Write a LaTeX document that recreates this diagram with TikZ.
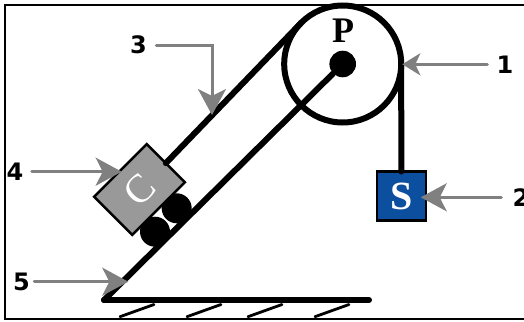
\documentclass[tikz,border=0pt]{standalone}
\usepackage{fontspec}
\setmainfont{Liberation Serif}
\newfontfamily\numfont{DejaVu Sans}
\usetikzlibrary{arrows.meta}
\definecolor{boxblue}{HTML}{0B4F9E}
\definecolor{blockgray}{HTML}{999999}
\definecolor{arrowgray}{HTML}{808080}
\tikzset{
    rope/.style={line width=3pt, line cap=round},
    callout/.style={arrowgray, line width=1.5pt, line cap=round, -{Stealth[length=13pt,width=14pt,inset=3.5pt]}},
    num/.style={font=\numfont\bfseries\fontsize{12}{14}\selectfont, inner ysep=0pt},
    wheel/.style={circle, fill=black, inner sep=0pt, minimum size=15pt}
}
\begin{document}
\begin{tikzpicture}[x=0.5pt,y=-0.5pt]
\useasboundingbox (0,0) rectangle (524,321);
%moldura
    \draw [line width=1pt] (524,4.5) -- (5,4.5) -- (5,319) -- (524,319);

%polia
    \node (pulley) at (342.7,64) [circle, draw, line width=3pt, outer sep=0pt, inner sep=0pt, minimum size=58.5pt] {};
    \node (hub) at (342.7,64) [circle, fill=black, inner sep=0pt, minimum size=13.3pt] {};
    \node (labP) at (343,31) [font=\bfseries\fontsize{18}{20}\selectfont, inner sep=0pt] {P};

%plano
    \coordinate (base) at (104,300);
    \coordinate (tip) at (369,300);
    \draw [rope] (base) -- (hub);
    \draw [rope] (base) -- (tip);
    \foreach \x in {120,187,248,315}
        \draw [line width=1.4pt, line cap=round] (\x,316.7) -- (\x+34,304.5);

%carro
    \node (wheelA) at (176.7,208.3) [wheel] {};
    \node (wheelB) at (155,231.7) [wheel] {};
    \node (block) at (139.5,189.5) [rotate=45, draw, fill=blockgray, line width=1.2pt, outer sep=0pt, inner sep=0pt, minimum width=37.25pt, minimum height=27pt, text=white, font=\fontsize{20}{22}\selectfont] {C};
    \draw [rope] (pulley.135) -- (block.east);

%peso
    \node (weight) at (401.3,196) [draw, fill=boxblue, line width=1.2pt, outer sep=0pt, inner sep=0pt, minimum size=24.5pt, text=white, font=\bfseries\fontsize{20}{22}\selectfont] {S};
    \draw [rope] (pulley.east) -- (weight.north);

%setas
    \node (num1) at (505,64.3) [num, inner xsep=4.5pt] {1};
    \node (num2) at (521,197.3) [num, inner xsep=5.5pt] {2};
    \node (num3) at (138.5,45) [num, inner xsep=4.5pt] {3};
    \node (num4) at (15,171.7) [num, inner xsep=4pt] {4};
    \node (num5) at (21.5,281.7) [num, inner xsep=2pt] {5};
    \coordinate (end1) at (402.3,64.3);
    \coordinate (end2) at (420.7,197.3);
    \coordinate (end3) at (212,115);
    \coordinate (end4) at (121.7,171.7);
    \coordinate (end5) at (128.3,281.7);
    \draw [callout, -{Stealth[length=9pt,width=11pt,inset=2.5pt]}] (num1.west) -- (end1);
    \draw [callout] (num2.west) -- (end2);
    \draw [callout] (num3.east) -| (end3);
    \draw [callout] (num4.east) -- (end4);
    \draw [callout] (num5.east) -- (end5);
\end{tikzpicture}
\end{document}
